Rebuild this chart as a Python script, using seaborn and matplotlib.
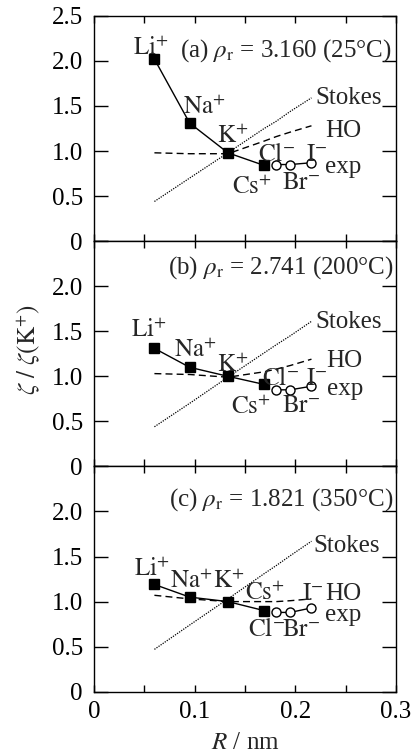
import matplotlib
matplotlib.use("Agg")
import matplotlib.pyplot as plt
import seaborn as sns
import numpy as np

# ---------------- data ----------------
ions_cat = ["Li", "Na", "K", "Cs"]
ions_an = ["Cl", "Br", "I"]
R_cat = [0.060, 0.095, 0.133, 0.169]
R_an = [0.181, 0.195, 0.216]
R_all = R_cat + R_an

panel_titles = [r"(a) $\rho_{\rm r}$ = 3.160 (25°C)",
                r"(b) $\rho_{\rm r}$ = 2.741 (200°C)",
                r"(c) $\rho_{\rm r}$ = 1.821 (350°C)"]

exp_cat_a = [2.02, 1.31, 0.98, 0.84]
exp_an_a = [0.85, 0.85, 0.87]
stokes_a = [0.44, 0.70, 0.98, 1.25, 1.33, 1.44, 1.59]
ho_a = [0.98, 0.97, 0.97, 1.11, 1.16, 1.21, 1.28]

exp_cat_b = [1.31, 1.10, 1.00, 0.91]
exp_an_b = [0.85, 0.85, 0.89]
stokes_b = [0.44, 0.70, 0.99, 1.26, 1.35, 1.45, 1.61]
ho_b = [1.03, 1.02, 0.99, 1.05, 1.08, 1.12, 1.19]

exp_cat_c = [1.19, 1.05, 1.00, 0.90]
exp_an_c = [0.88, 0.88, 0.93]
stokes_c = [0.47, 0.74, 1.03, 1.31, 1.40, 1.51, 1.67]
ho_c = [1.07, 1.03, 1.00, 1.00, 1.00, 1.01, 1.03]

x_ticks = [0, 0.05, 0.1, 0.15, 0.2, 0.25, 0.3]
x_ticklabels = ["0", "", "0.1", "", "0.2", "", "0.3"]
y_ticks = [0, 0.5, 1.0, 1.5, 2.0, 2.5]
y_ticklabels = ["0", "0.5", "1.0", "1.5", "2.0", "2.5"]

LI = r"$\mathrm{Li}^{+}$"
NA = r"$\mathrm{Na}^{+}$"
K = r"$\mathrm{K}^{+}$"
CS = r"$\mathrm{Cs}^{+}$"
CL = r"$\mathrm{Cl}^{-}$"
BR = r"$\mathrm{Br}^{-}$"
IO = r"$\mathrm{I}^{-}$"

# label positions (text, x, y) per panel
labels_a = [(LI, 0.056, 2.07), (NA, 0.1097, 1.41), (K, 0.1375, 1.09),
            (CS, 0.1566, 0.52), (CL, 0.181, 0.89), (BR, 0.206, 0.575),
            (IO, 0.221, 0.89)]
labels_b = [(LI, 0.0546, 1.437), (NA, 0.1003, 1.21), (K, 0.1375, 1.05),
            (CS, 0.1558, 0.585), (CL, 0.185, 0.90), (BR, 0.206, 0.60),
            (IO, 0.221, 0.90)]
labels_c = [(LI, 0.0576, 1.28), (NA, 0.0963, 1.15), (K, 0.134, 1.15),
            (CS, 0.170, 1.02), (CL, 0.171, 0.62), (BR, 0.206, 0.62),
            (IO, 0.217, 1.02)]
# series name labels (text, x_left, y_baseline)
names_a = [("Stokes", 0.2195, 1.52), ("HO", 0.2294, 1.15), ("exp", 0.2294, 0.76)]
names_b = [("Stokes", 0.2195, 1.54), ("HO", 0.2310, 1.10), ("exp", 0.2310, 0.79)]
names_c = [("Stokes", 0.2178, 1.545), ("HO", 0.2294, 1.02), ("exp", 0.2294, 0.78)]
title_pos = [(0.2955, 2.05), (0.2975, 2.14), (0.2975, 2.07)]

# ---------------- style ----------------
sns.set_style("ticks")
plt.rcParams["font.family"] = ["Liberation Serif", "DejaVu Serif"]
plt.rcParams["mathtext.fontset"] = "stix"
plt.rcParams["axes.linewidth"] = 1.0
FS = 18

fig = plt.figure(figsize=(4.16, 7.54), dpi=100)
gs = fig.add_gridspec(3, 1, left=0.226, right=0.952, bottom=0.0826, top=0.979, hspace=0)

panels = [
    (exp_cat_a, exp_an_a, stokes_a, ho_a, labels_a, names_a),
    (exp_cat_b, exp_an_b, stokes_b, ho_b, labels_b, names_b),
    (exp_cat_c, exp_an_c, stokes_c, ho_c, labels_c, names_c),
]

for i, (ecat, ean, stk, ho, labs, names) in enumerate(panels):
    ax = fig.add_subplot(gs[i])
    sns.lineplot(x=R_all, y=stk, ax=ax, color="black", linestyle=(0, (1, 1.0)),
                 linewidth=0.9, estimator=None, sort=False)
    sns.lineplot(x=R_all, y=ho, ax=ax, color="black", linestyle=(0, (5, 3)),
                 linewidth=1.0, estimator=None, sort=False)
    sns.lineplot(x=R_cat, y=ecat, ax=ax, color="black", linewidth=1.0,
                 marker="s", markersize=7.5, markerfacecolor="black",
                 markeredgecolor="black", markeredgewidth=1.0,
                 estimator=None, sort=False, zorder=5)
    sns.lineplot(x=R_an, y=ean, ax=ax, color="black", linewidth=1.0,
                 marker="o", markersize=6.5, markerfacecolor="white",
                 markeredgecolor="black", markeredgewidth=1.0,
                 estimator=None, sort=False, zorder=5)

    ax.set_xlim(0, 0.3)
    ax.set_ylim(0, 2.5)
    ax.set_xticks(x_ticks)
    if i == 2:
        ax.set_xticklabels(x_ticklabels)
    else:
        ax.set_xticklabels([""] * len(x_ticks))
    ax.set_yticks(y_ticks)
    if i == 0:
        ax.set_yticklabels(y_ticklabels)
    else:
        ax.set_yticklabels(y_ticklabels[:-1] + [""])
    ax.tick_params(axis="y", direction="in", length=10, width=1.0,
                   left=True, right=True, labelsize=FS, pad=8, colors="black")
    ax.tick_params(axis="x", direction="in", length=5, width=1.0,
                   top=True, bottom=True, labelsize=FS, pad=7, colors="black")
    ax.set_xlabel("")
    ax.set_ylabel("")
    for s in ax.spines.values():
        s.set_color("black")

    for txt, x, y in labs:
        ax.text(x, y, txt, ha="center", va="baseline", fontsize=FS, zorder=6)
    for txt, x, y in names:
        ax.text(x, y, txt, ha="left", va="baseline", fontsize=FS, zorder=6)
    tx, ty = title_pos[i]
    ax.text(tx, ty, panel_titles[i], ha="right", va="baseline", fontsize=FS)

fig.text(28 / 416, 1 - 350 / 754, r"$\zeta\ /\ \zeta(\mathrm{K}^{+})$", rotation=90,
         ha="center", va="center", fontsize=FS)
fig.text(245 / 416, 1 - 743 / 754, r"$R$ / nm", ha="center", va="center", fontsize=FS)

fig.savefig("out.png", dpi=100, facecolor="white")
